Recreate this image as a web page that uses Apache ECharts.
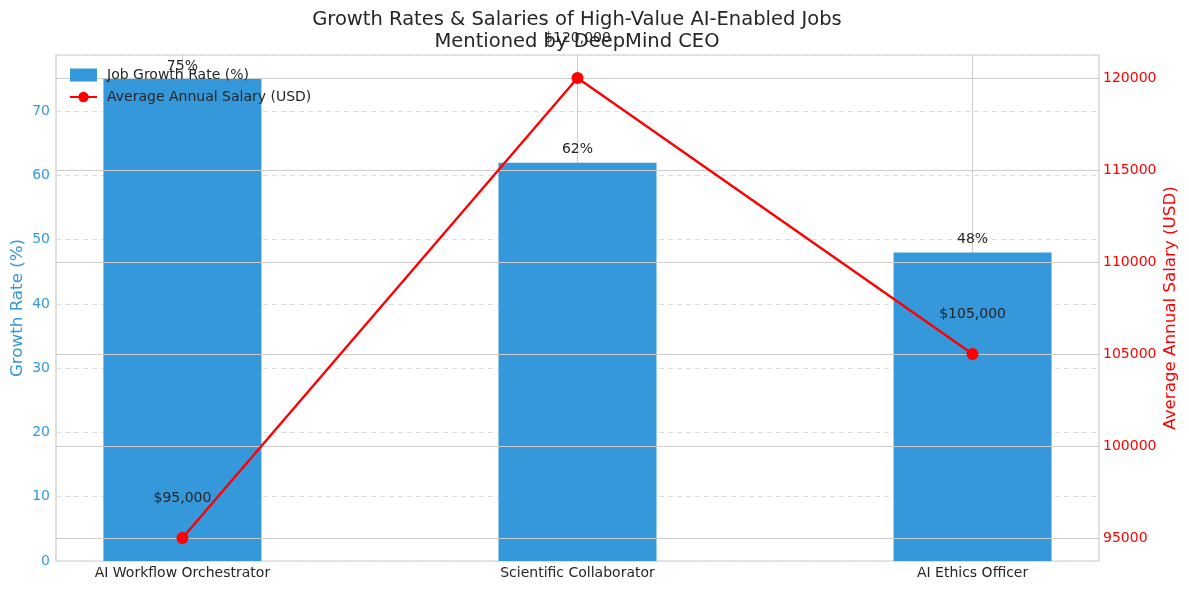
<!DOCTYPE html>
<html>
<head>
<meta charset="utf-8">
<script src="https://cdn.jsdelivr.net/npm/echarts@6/dist/echarts.min.js"></script>
<style>html,body{margin:0;padding:0;background:#fff}#c{width:1189px;height:590px}</style>
</head>
<body>
<div id="c"></div>
<script>
var categories = ['AI Workflow Orchestrator', 'Scientific Collaborator', 'AI Ethics Officer'];
var growthRates = [75, 62, 48];
var salaries = [95000, 120000, 105000];
var positions = [0, 1, 2];
var leftTicks = [0, 10, 20, 30, 40, 50, 60, 70];
var rightTicks = [95000, 100000, 105000, 110000, 115000, 120000];

var FONT = 'DejaVu Sans';
var chart = echarts.init(document.getElementById('c'));
var barData = positions.map(function (p, i) { return [p, growthRates[i]]; });
var lineData = positions.map(function (p, i) { return [p, salaries[i]]; });

chart.setOption({
  animation: false,
  textStyle: { fontFamily: FONT },
  title: {
    text: 'Growth Rates & Salaries of High-Value AI-Enabled Jobs\nMentioned by DeepMind CEO',
    left: 572, top: 4, textAlign: 'center',
    textStyle: { fontFamily: FONT, fontSize: 19.5, fontWeight: 'normal', color: '#262626', lineHeight: 22 }
  },
  legend: {
    left: 64, top: 63, orient: 'vertical', itemGap: 8, itemWidth: 27, itemHeight: 13,
    data: [
      { name: 'Job Growth Rate (%)', icon: 'rect' },
      { name: 'Average Annual Salary (USD)' }
    ],
    textStyle: { fontFamily: FONT, fontSize: 14, color: '#262626', padding: [0, 0, 0, 5] }
  },
  grid: { left: 56, right: 90, top: 55, bottom: 29, outerBoundsMode: 'none', containLabel: false,
    show: true, borderColor: '#cccccc', borderWidth: 1.2 },
  xAxis: {
    type: 'value', min: -0.32, max: 2.32,
    axisLine: { show: false }, axisTick: { show: false }, splitLine: { show: false },
    axisLabel: {
      customValues: positions,
      formatter: function (v) { return categories[Math.round(v)]; },
      color: '#262626', fontSize: 14, margin: 5, fontFamily: FONT
    }
  },
  yAxis: [
    {
      type: 'value', min: 0, max: 78.75, interval: 10,
      name: 'Growth Rate (%)', nameLocation: 'middle', nameGap: 30, nameRotate: 90, nameMoveOverlap: false,
      nameTextStyle: { color: '#3498db', fontSize: 16.7, fontFamily: FONT },
      axisLine: { show: false }, axisTick: { show: false },
      axisLabel: {
        color: '#3498db', fontSize: 14, margin: 6, fontFamily: FONT,
        formatter: function (v) { return leftTicks.indexOf(v) >= 0 ? String(v) : ''; }
      },
      splitLine: { show: true, lineStyle: { color: '#dddddd', type: [5, 4], width: 1 } }
    },
    {
      type: 'value', min: 93750, max: 121250, interval: 1250, z: 3,
      name: 'Average Annual Salary (USD)', nameLocation: 'middle', nameGap: 63, nameRotate: 90, nameMoveOverlap: false,
      nameTextStyle: { color: '#ff0000', fontSize: 16.7, fontFamily: FONT },
      axisLine: { show: false }, axisTick: { show: false },
      axisLabel: {
        color: '#ff0000', fontSize: 14, margin: 4, fontFamily: FONT,
        formatter: function (v) { return rightTicks.indexOf(v) >= 0 ? String(v) : ''; }
      },
      splitLine: { show: true, lineStyle: { color: ['rgba(0,0,0,0)', '#cccccc', 'rgba(0,0,0,0)', 'rgba(0,0,0,0)'], width: 1.2 } }
    }
  ],
  series: [
    {
      name: 'vgrid', type: 'line', data: [], z: 1, silent: true,
      markLine: {
        z: 1, silent: true, symbol: 'none', animation: false,
        label: { show: false },
        lineStyle: { color: '#cccccc', type: 'solid', width: 1 },
        data: positions.map(function (p) { return { xAxis: p }; })
      }
    },
    {
      name: 'Job Growth Rate (%)', type: 'bar', data: barData, barWidth: 158, z: 2,
      itemStyle: { color: '#3498db' },
      label: {
        show: true, position: 'top', distance: 6, color: '#262626', fontSize: 14, fontFamily: FONT,
        formatter: function (p) { return p.value[1] + '%'; }
      }
    },
    {
      name: 'Average Annual Salary (USD)', type: 'line', yAxisIndex: 1, data: lineData, z: 5,
      symbol: 'circle', symbolSize: 12,
      lineStyle: { color: '#ff0000', width: 2.4 },
      itemStyle: { color: '#ff0000' },
      label: {
        show: true, position: 'top', distance: 27, color: '#262626', fontSize: 14, fontFamily: FONT,
        formatter: function (p) { return '$' + p.value[1].toLocaleString('en-US'); }
      }
    }
  ]
});
</script>
</body>
</html>
